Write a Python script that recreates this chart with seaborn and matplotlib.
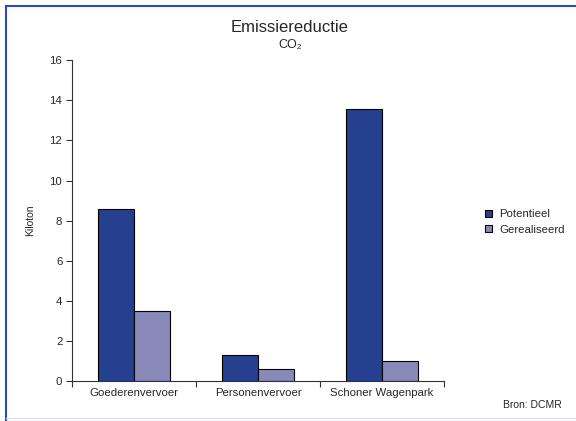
import matplotlib
matplotlib.use("Agg")
import matplotlib.pyplot as plt
import seaborn as sns
import pandas as pd
from matplotlib.lines import Line2D

# data
categories = ["Goederenvervoer", "Personenvervoer", "Schoner Wagenpark"]
potentieel = [8.6, 1.3, 13.55]
gerealiseerd = [3.5, 0.6, 1.0]
series_names = ["Potentieel", "Gerealiseerd"]
colors = ["#24408E", "#8888B9"]

df = pd.DataFrame({
    "categorie": categories * 2,
    "reeks": [series_names[0]] * 3 + [series_names[1]] * 3,
    "waarde": potentieel + gerealiseerd,
})

sns.set_theme(style="white")
plt.rcParams["font.family"] = ["Liberation Sans", "DejaVu Sans"]

fig = plt.figure(figsize=(5.76, 4.21), dpi=100)
ax = fig.add_axes([0.125, 0.095, 0.646, 0.762])

sns.barplot(data=df, x="categorie", y="waarde", hue="reeks", palette=colors,
            width=0.58, edgecolor="black", linewidth=0.8, saturation=1,
            ax=ax, legend=False)

ax.set_ylim(0, 16)
ax.set_yticks(range(0, 17, 2))
ax.set_xlim(-0.5, 2.5)
ax.set_xticks([-0.5, 0.5, 1.5, 2.5])
ax.set_xticklabels([])
ax.set_xticks([0, 1, 2], minor=True)
ax.set_xticklabels(categories, minor=True, fontsize=8.2)
ax.tick_params(axis="x", which="major", length=4, width=0.8, color="#333333", bottom=True, direction="out")
ax.tick_params(axis="x", which="minor", length=0, pad=5)
ax.tick_params(axis="y", length=4, width=0.8, color="#333333", left=True, direction="out", labelsize=8.2, pad=3)
ax.set_xlabel("")
ax.set_ylabel("Kiloton", fontsize=7.5)
ax.yaxis.set_label_coords(-0.1, 0.5)

for side in ["top", "right"]:
    ax.spines[side].set_visible(False)
for side in ["left", "bottom"]:
    ax.spines[side].set_color("#333333")
    ax.spines[side].set_linewidth(0.8)

# legend
handles = [plt.Rectangle((0, 0), 1, 1, facecolor=c, edgecolor="black", linewidth=0.8) for c in colors]
fig.legend(handles, series_names, loc="upper left", bbox_to_anchor=(0.825, 0.527),
           frameon=False, fontsize=8.2, handlelength=0.6, handleheight=0.6,
           handletextpad=0.6, labelspacing=0.45)

# titles
fig.text(0.503, 0.935, "Emissiereductie", ha="center", va="center", fontsize=12)
fig.text(0.503, 0.893, "CO\u2082", ha="center", va="center", fontsize=9)
fig.text(0.976, 0.038, "Bron: DCMR", ha="right", va="center", fontsize=7.5)

# frame lines around the figure
fig.add_artist(Line2D([0.011, 0.011], [0.0, 0.986], transform=fig.transFigure, color="#2A4DAA", linewidth=1.5))
fig.add_artist(Line2D([0.011, 1.0], [0.986, 0.986], transform=fig.transFigure, color="#2A4DAA", linewidth=1.5))
fig.add_artist(Line2D([0.011, 1.0], [0.006, 0.006], transform=fig.transFigure, color="#E2E2EC", linewidth=1.0))

fig.savefig("out.png", dpi=100)
